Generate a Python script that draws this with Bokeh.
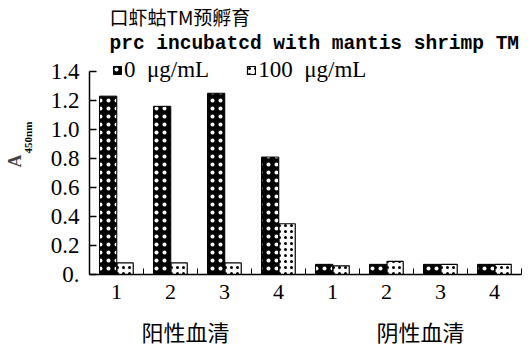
import math
from bokeh.plotting import figure
from bokeh.models import (FixedTicker, Label, Legend, LegendItem, Range1d, ColumnDataSource,
                          Title)
from bokeh.embed import file_html
from bokeh.resources import INLINE

# ---- data ----
groups = [1, 2, 3, 4, 5, 6, 7, 8]
group_tick_labels = ["1", "2", "3", "4", "1", "2", "3", "4"]
series_names = ["0  μg/mL", "100  μg/mL"]
vals_0 = [1.23, 1.16, 1.25, 0.81, 0.07, 0.07, 0.07, 0.07]
vals_100 = [0.08, 0.08, 0.08, 0.35, 0.06, 0.09, 0.07, 0.07]
y_ticks = [0, 0.2, 0.4, 0.6, 0.8, 1.0, 1.2, 1.4]
y_tick_labels = ["0.", "0.2", "0.4", "0.6", "0.8", "1.0", "1.2", "1.4"]
group_names = ["阳性血清", "阴性血清"]
group_name_pos = [2.28, 6.63]
title_cn = "口虾蛄TM预孵育"
title_en = "prc incubatcd with mantis shrimp TM"

SERIF = "Liberation Serif"
CJK = "Noto Sans CJK SC"

Y_MAX = 1.4
Y_TOP = Y_MAX * 274 / 203  # frame extends to figure top for the title area

p = figure(width=530, height=350, output_backend="svg", toolbar_location=None,
           x_range=Range1d(0.5, 8.5), y_range=Range1d(0, Y_TOP),
           min_border_left=89, min_border_right=9, min_border_top=0, min_border_bottom=76)
p.outline_line_color = None
p.grid.visible = False
p.background_fill_color = "white"

src = ColumnDataSource(dict(x0=[g - 0.155 for g in groups], x1=[g + 0.16 for g in groups],
                            v0=vals_0, v1=vals_100))
r0 = p.vbar(x="x0", top="v0", width=0.32, bottom=0, source=src,
            fill_color="black", line_color="black", line_width=1,
            hatch_pattern=".", hatch_color="white", hatch_scale=8, hatch_weight=0.8)
r1 = p.vbar(x="x1", top="v1", width=0.30, bottom=0, source=src,
            fill_color="white", line_color="black", line_width=1.2,
            hatch_pattern=".", hatch_color="black", hatch_scale=6, hatch_weight=1)

# x axis: digits on the first line, group names on the second line
xa = p.xaxis[0]
xa.ticker = FixedTicker(ticks=groups + group_name_pos,
                        minor_ticks=[g + 0.5 for g in range(0, 9)])
overrides = {g: l for g, l in zip(groups, group_tick_labels)}
overrides.update({g: "\n" + n for g, n in zip(group_name_pos, group_names)})
xa.major_label_overrides = overrides
xa.major_tick_in = 0
xa.major_tick_out = 0
xa.minor_tick_in = 6
xa.minor_tick_out = 0
xa.major_label_standoff = 4
xa.major_label_text_font = SERIF + ", " + CJK
xa.major_label_text_font_size = "22px"
xa.major_label_text_line_height = 1.68
xa.major_label_text_color = "black"
xa.axis_line_color = "black"
xa.axis_line_width = 1.5

ya = p.yaxis[0]
ya.ticker = FixedTicker(ticks=y_ticks)
ya.bounds = (0, Y_MAX)
ya.major_label_overrides = {t: l for t, l in zip(y_ticks, y_tick_labels)}
ya.major_tick_in = 7
ya.major_tick_out = 0
ya.minor_tick_line_color = None
ya.major_label_standoff = 10
ya.major_label_text_font = SERIF
ya.major_label_text_font_size = "23px"
ya.major_label_text_color = "black"
ya.axis_line_color = "black"
ya.axis_line_width = 1.5
ya.major_tick_line_width = 1.5
# subscript part of the y label sits on the axis label
ya.axis_label = "450nm"
ya.axis_label_text_font = SERIF
ya.axis_label_text_font_size = "11px"
ya.axis_label_text_font_style = "bold"
ya.axis_label_standoff = 14
ya.axis_label_text_color = "black"

# main letter of the y label
p.add_layout(Title(text="A", align="left", offset=107, vertical_align="bottom",
                   text_font=SERIF, text_font_size="18px", text_font_style="bold",
                   standoff=-12), "left")

# legend
legend = Legend(items=[LegendItem(label=series_names[0], renderers=[r0]),
                       LegendItem(label=series_names[1], renderers=[r1])],
                orientation="horizontal", location=(23, 191),
                background_fill_alpha=0, border_line_alpha=0, padding=0, margin=0,
                spacing=37, label_standoff=2, glyph_width=10, glyph_height=10,
                label_text_font=SERIF, label_text_font_size="23px",
                label_text_color="black", label_height=20)
p.add_layout(legend)

# titles
p.add_layout(Label(x=20, y=258, x_units="screen", y_units="screen", text=title_cn,
                   text_font=CJK, text_font_size="19px", text_baseline="middle",
                   text_color="black"))
p.add_layout(Label(x=20, y=231, x_units="screen", y_units="screen", text=title_en,
                   text_font="Liberation Mono", text_font_size="19.5px", text_font_style="bold",
                   text_baseline="middle", text_color="black"))

open("out.html", "w").write(file_html(p, INLINE))
